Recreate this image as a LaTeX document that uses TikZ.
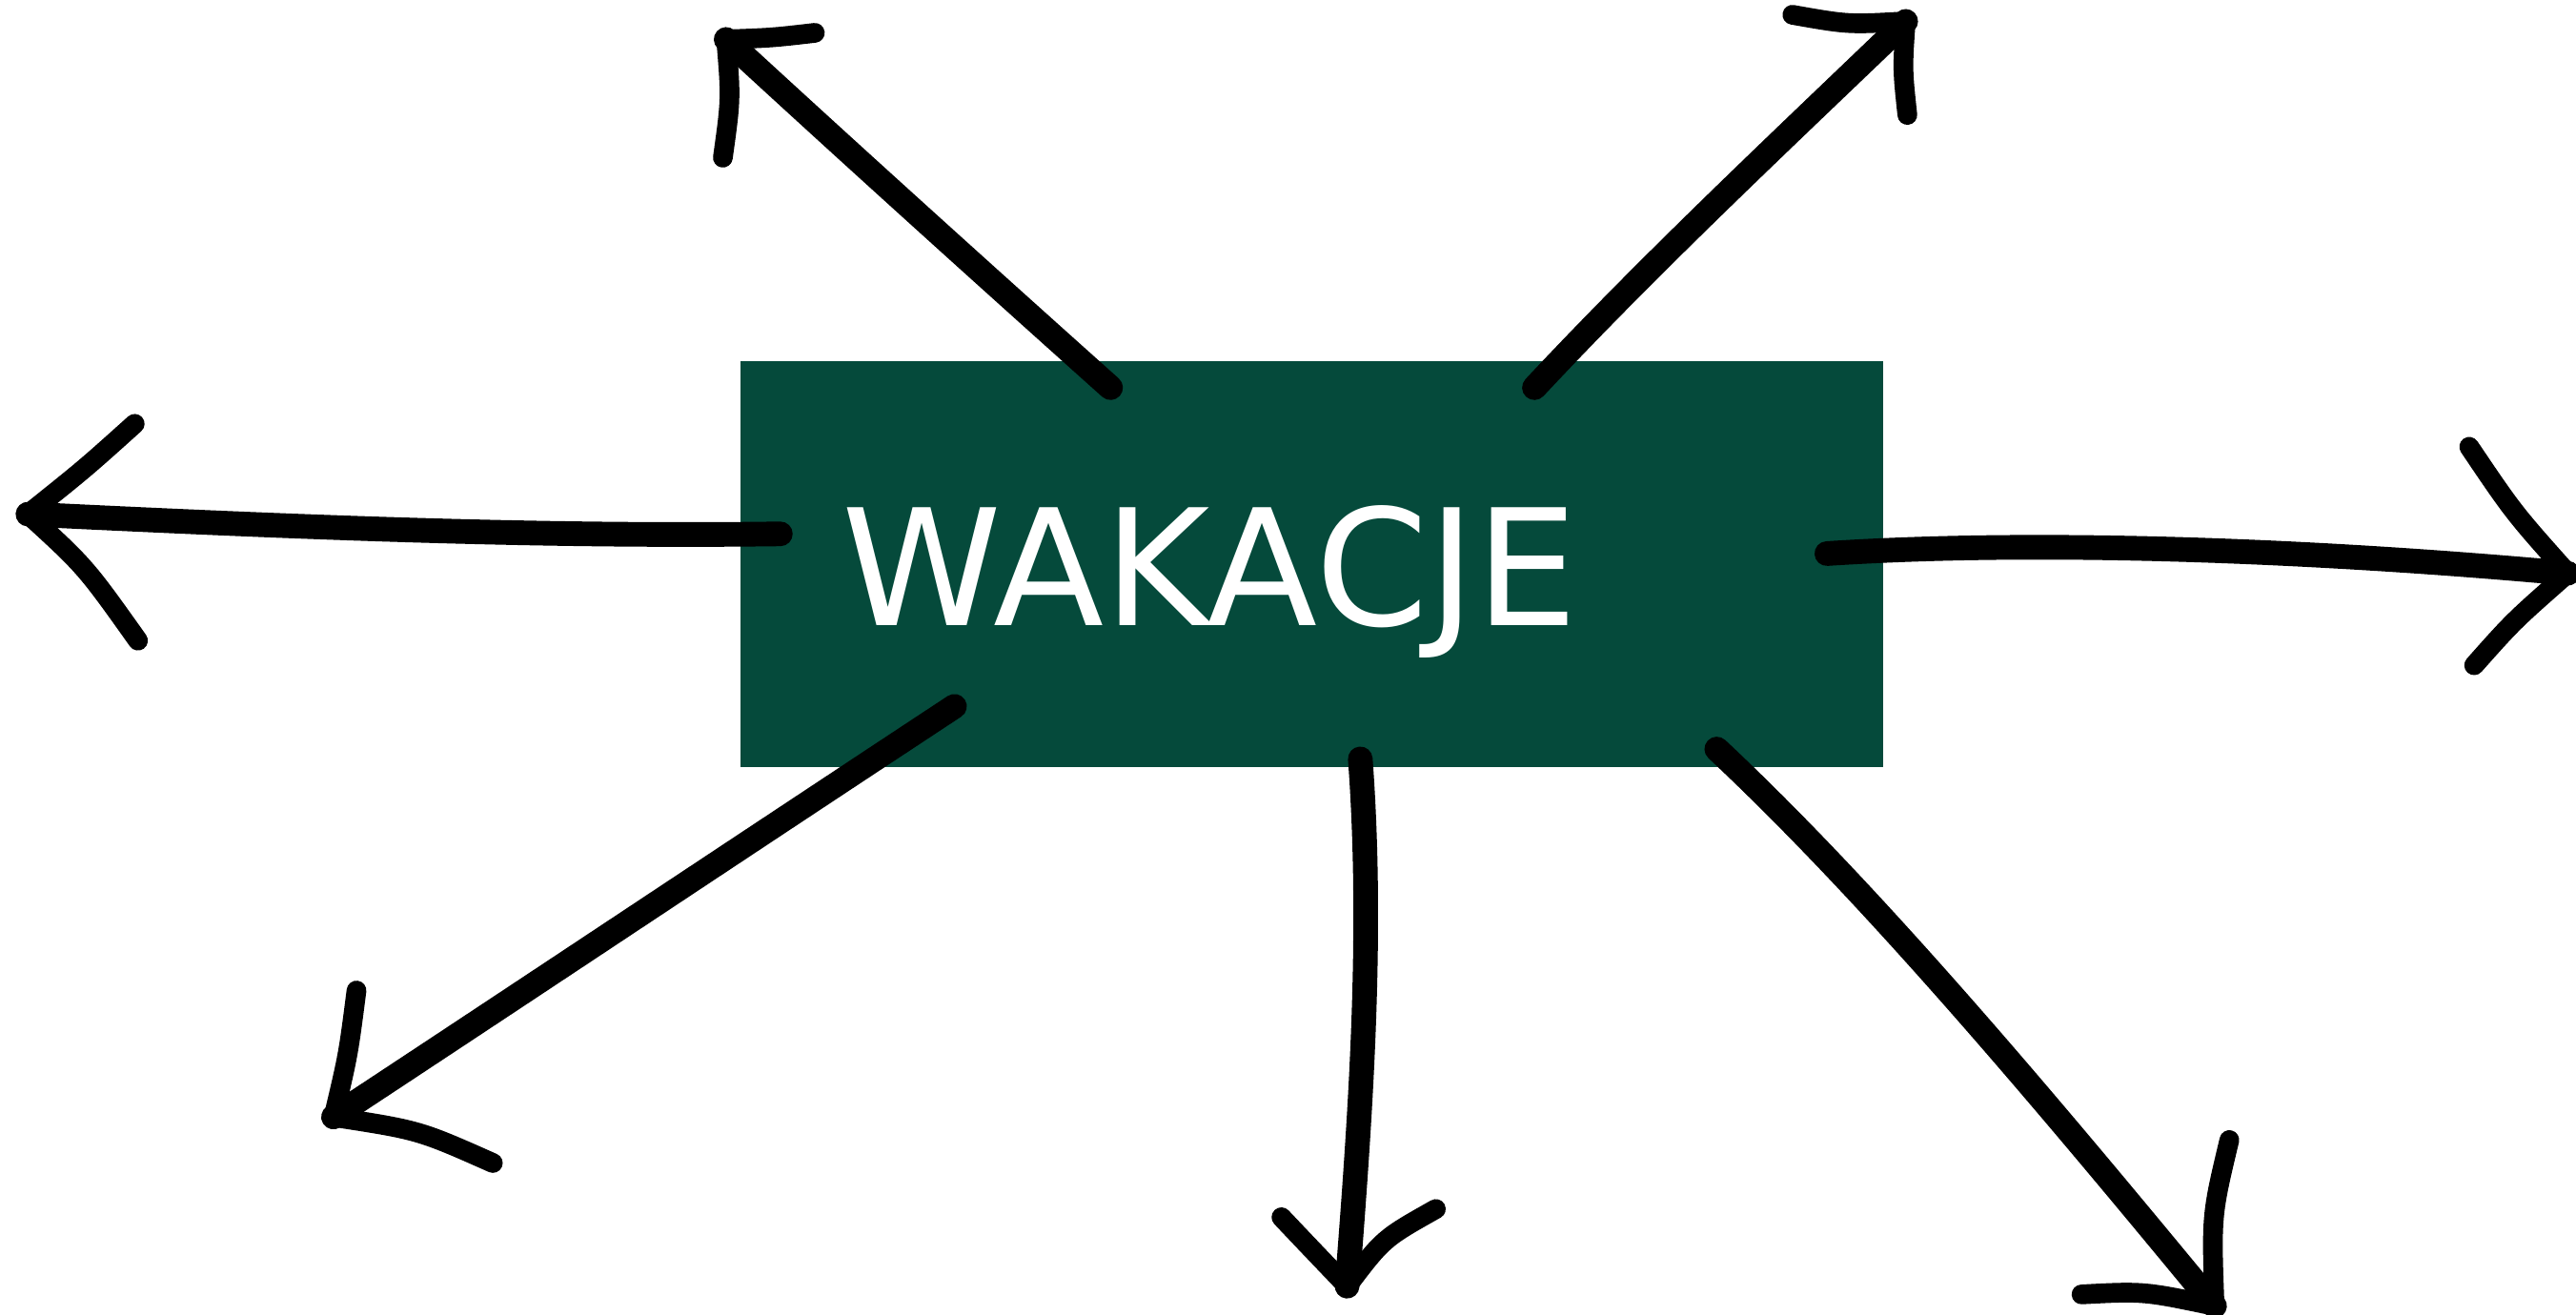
\documentclass[tikz,border=0pt]{standalone}
\usepackage{fontspec}
\newfontfamily\boxfont{DejaVu Sans}
\definecolor{boxgreen}{HTML}{054A3B}
\begin{document}
\begin{tikzpicture}[x=0.01cm,y=-0.01cm,
  shaft/.style={line width=0.15cm,line cap=round,line join=round,black},
  barb/.style={line width=0.12cm,line cap=round,line join=round,black}]
\useasboundingbox[fill=white] (0,0) rectangle (1568,800);
\node[fill=boxgreen,minimum width=6.95cm,minimum height=2.47cm,inner sep=0pt] (box) at (798.5,343.5) {};
\node[anchor=base west,inner sep=0pt,text=white,font=\boxfont\fontsize{28pt}{30pt}\selectfont] (title) at (512,381) {WAKACJE};
% start and end points
\coordinate (s1) at (676,236); \coordinate (t1) at (442,24);
\coordinate (s2) at (934,236); \coordinate (t2) at (1160,13);
\coordinate (s3) at (475,325); \coordinate (t3) at (17,313);
\coordinate (s4) at (1112,337); \coordinate (t4) at (1563,349);
\coordinate (s5) at (581,430); \coordinate (t5) at (203,680);
\coordinate (s6) at (828,462); \coordinate (t6) at (820,783);
\coordinate (s7) at (1045,456); \coordinate (t7) at (1348,795);
% shafts
\draw[shaft] (s1) .. controls (600,168) and (518,94) .. (t1);
\draw[shaft] (s2) .. controls (1005,160) and (1085,85) .. (t2);
\draw[shaft] (s3) .. controls (330,327) and (180,321) .. (t3);
\draw[shaft] (s4) .. controls (1250,328) and (1420,336) .. (t4);
\draw[shaft] (s5) .. controls (455,513) and (329,597) .. (t5);
\draw[shaft] (s6) .. controls (836,570) and (828,680) .. (t6);
\draw[shaft] (s7) .. controls (1140,545) and (1245,670) .. (t7);
% arrow heads
\draw[barb] (t1) .. controls (470,23) .. (496,20); \draw[barb] (t1) .. controls (445,60) .. (440,96);
\draw[barb] (t2) .. controls (1125,15) .. (1091,9); \draw[barb] (t2) .. controls (1158,42) .. (1161,70);
\draw[barb] (t3) .. controls (52,285) .. (82,258); \draw[barb] (t3) .. controls (52,345) .. (84,390);
\draw[barb] (t4) .. controls (1530,312) .. (1503,272); \draw[barb] (t4) .. controls (1530,378) .. (1506,405);
\draw[barb] (t5) .. controls (212,642) .. (217,603); \draw[barb] (t5) .. controls (255,688) .. (300,708);
\draw[barb] (t6) .. controls (798,760) .. (780,741); \draw[barb] (t6) .. controls (842,754) .. (874,736);
\draw[barb] (t7) .. controls (1346,740) .. (1357,694); \draw[barb] (t7) .. controls (1305,786) .. (1267,788);
\end{tikzpicture}
\end{document}
